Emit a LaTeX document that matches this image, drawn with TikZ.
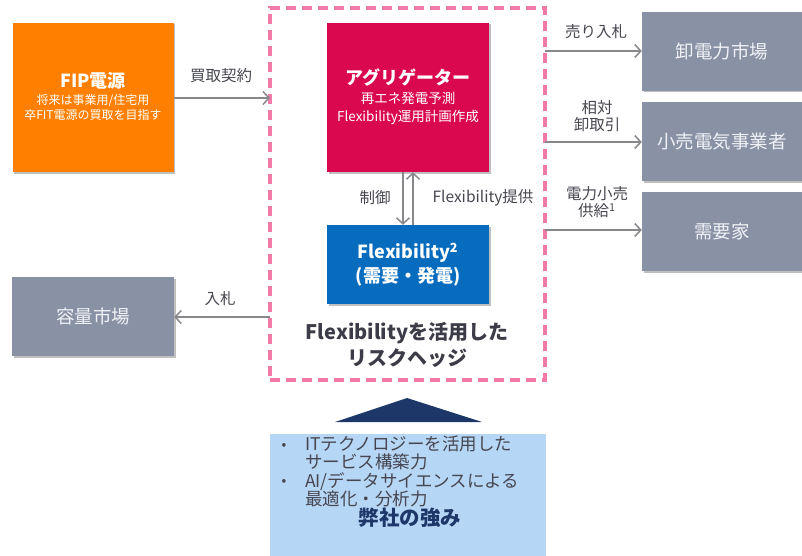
\documentclass[tikz,border=0pt]{standalone}
\usepackage{fontspec}
\setmainfont{Noto Sans CJK JP}
\usetikzlibrary{arrows.meta,shadows}
\definecolor{fiporange}{RGB}{255,128,0}
\definecolor{aggred}{RGB}{218,8,78}
\definecolor{flexblue}{RGB}{8,108,190}
\definecolor{mktgrey}{RGB}{137,145,165}
\definecolor{framepink}{RGB}{242,122,168}
\definecolor{strengthblue}{RGB}{182,214,246}
\definecolor{navy}{RGB}{30,55,105}
\definecolor{labelgrey}{RGB}{70,70,80}
\definecolor{arrowgrey}{RGB}{135,135,140}
\definecolor{titlegrey}{RGB}{60,60,72}
\definecolor{boxtext}{RGB}{240,242,246}
\tikzset{
  box/.style={rectangle, inner sep=0pt, align=center, text=white,
    drop shadow={shadow xshift=1.5pt, shadow yshift=-1.5pt, opacity=0.25, fill=black}},
  mkt/.style={box, fill=mktgrey, minimum width=160pt, minimum height=79pt, text=boxtext, font=\fontsize{18.5}{21}\selectfont},
  conn/.style={draw=arrowgrey, line width=1.5pt, -{Straight Barb[length=6pt,width=13pt,line width=1.5pt]}},
  lbl/.style={text=labelgrey, font=\fontsize{15.5}{17.5}\selectfont, inner sep=0pt, align=center},
  intext/.style={text=white, inner sep=0pt, align=center}
}
\begin{document}
\begin{tikzpicture}[x=1pt,y=-1pt]
\useasboundingbox (0,0) rectangle (802,556);
% frame
\node (frame) [draw=framepink, line width=4pt, dash pattern=on 10pt off 6pt, rectangle, minimum width=275pt, minimum height=372pt, inner sep=0pt] at (407.5,194) {};
% boxes
\node (fip) [box, fill=fiporange, minimum width=161pt, minimum height=149pt] at (93,97.5) {};
\node (fipt) [intext, font=\bfseries\fontsize{18}{20}\selectfont] at (93,81) {FIP電源};
\node (fips) [intext, font=\fontsize{12}{14.5}\selectfont] at (93,107.5) {将来は事業用/住宅用\\卒FIT電源の買取を目指す};
\node (agg) [box, fill=aggred, minimum width=162pt, minimum height=149pt] at (408,97.5) {};
\node (aggt) [intext, font=\bfseries\fontsize{18}{20}\selectfont] at (408,77) {アグリゲーター};
\node (aggs) [intext, font=\fontsize{13.5}{18}\selectfont] at (408,108) {再エネ発電予測\\Flexibility運用計画作成};
\node (flex) [box, fill=flexblue, minimum width=162pt, minimum height=79pt, font=\bfseries\fontsize{18}{23.5}\selectfont] at (408,264.5)
  {Flexibility\textsuperscript{2}\\(需要・発電)};
\node (risk) [text=titlegrey, font=\bfseries\fontsize{20}{25.5}\selectfont, align=center, inner sep=0pt] at (407,345) {Flexibilityを活用した\\リスクヘッジ};
\node (whole) [mkt] at (722,51.5) {卸電力市場};
\node (retail) [mkt] at (722,141.5) {小売電気事業者};
\node (demand) [mkt] at (722,231.5) {需要家};
\node (cap) [mkt, minimum width=162pt] at (93,316.5) {容量市場};
% coordinates on frame edges
\coordinate (fl) at (270,98);
\coordinate (fl2) at (270,317);
\coordinate (fr1) at (545,51);
\coordinate (fr2) at (545,142);
\coordinate (fr3) at (545,230);
% connectors
\draw[conn] (fip.east |- fl) -- (fl);
\node[lbl] (l1) at (221,76) {買取契約};
\draw[conn] (fl2) -- (cap.east |- fl2);
\node[lbl] (l2) at (220,299) {入札};
\draw[conn] (fr1) -- (whole.west |- fr1);
\node[lbl] (l3) at (596,32) {売り入札};
\draw[conn] (fr2) -- (retail.west |- fr2);
\node[lbl] (l4) at (597,116) {相対\\卸取引};
\draw[conn] (fr3) -- (demand.west |- fr3);
\node[lbl] (l5) at (597,202) {電力小売\\供給\textsuperscript{1}};
\draw[conn] ([xshift=-5pt]agg.south) -- ([xshift=-5pt]flex.north);
\draw[conn] ([xshift=5pt]flex.north) -- ([xshift=5pt]agg.south);
\node[lbl] (l6) at (375,198) {制御};
\node[lbl] (l7) at (483,198) {Flexibility提供};
% strength
\fill[navy] (335,422) -- (407,398) -- (482,422) -- cycle;
\node (str) [rectangle, fill=strengthblue, minimum width=276pt, minimum height=124pt, inner sep=0pt, anchor=north west] at (270,434) {};
\node (s1) [text=labelgrey, font=\fontsize{17.5}{18}\selectfont, align=left, anchor=north west, inner sep=0pt] at (305,436)
  {ITテクノロジーを活用した\\サービス構築力};
\node (s2) [text=labelgrey, font=\fontsize{17.5}{18}\selectfont, align=left, anchor=north west, inner sep=0pt] at (305,472)
  {AI/データサイエンスによる\\最適化・分析力};
\node (b1) [text=labelgrey, font=\fontsize{14}{16}\selectfont, inner sep=0pt] at (284,446) {•};
\node (b2) [text=labelgrey, font=\fontsize{14}{16}\selectfont, inner sep=0pt] at (284,482) {•};
\node (sttl) [text=navy, font=\bfseries\fontsize{20.5}{22}\selectfont, inner sep=0pt] at (410,518) {弊社の強み};
\end{tikzpicture}
\end{document}
